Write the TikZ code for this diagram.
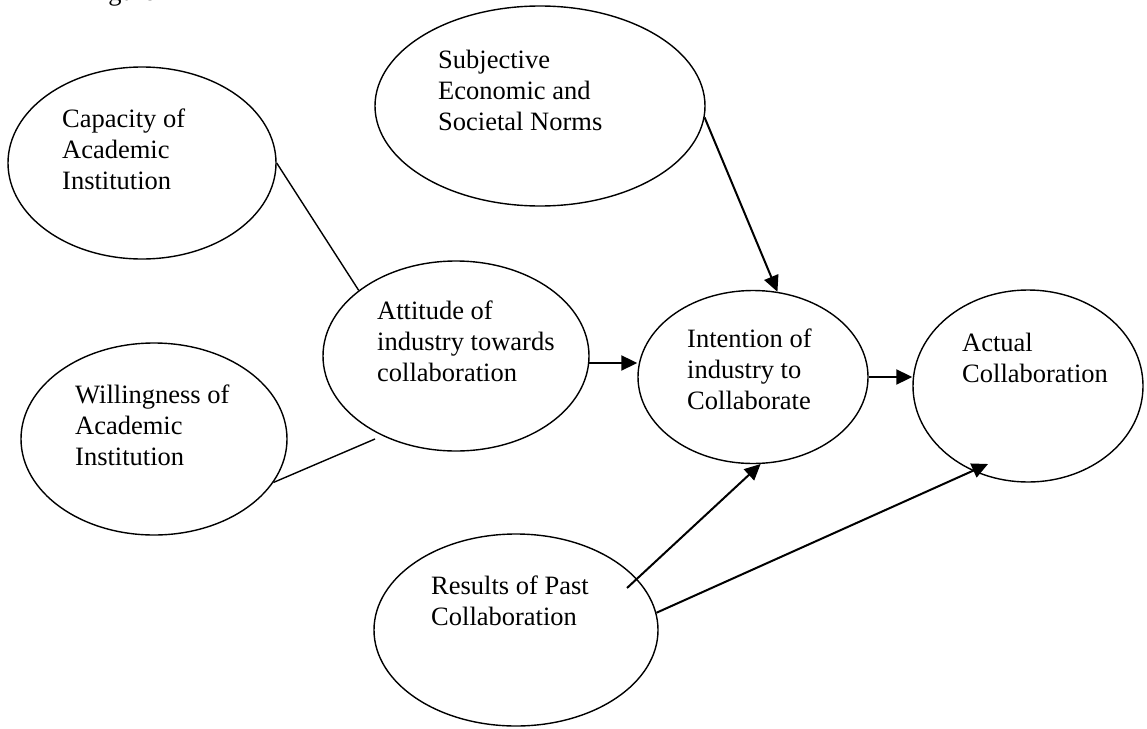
\documentclass[tikz,border=0pt]{standalone}
\usepackage{fontspec}
\setmainfont{Liberation Serif}
\usetikzlibrary{shapes.geometric,arrows.meta}

\tikzset{
  construct/.style={draw, ellipse, line width=1.4pt, inner sep=0pt},
  caption/.style={anchor=base west, inner sep=0pt,
    font=\fontsize{26.5}{31}\selectfont},
  link/.style={line width=1.4pt},
  effect/.style={line width=2pt, -{Triangle[length=16pt,width=15pt]}},
}
\newcommand{\lines}[1]{\begin{tabular}[t]{@{}l@{}}#1\end{tabular}}

\begin{document}
\begin{tikzpicture}[x=1pt, y=-1pt]
  \useasboundingbox (0,0) rectangle (1147,728);

  % heading line running off the top edge
  \begin{scope}
    \clip (0,0) rectangle (1147,728);
    \node[caption] (fig) at (86,0) {Figure};
  \end{scope}

  % constructs
  \node[construct, minimum width=268pt, minimum height=192pt] (cap)  at (142,163) {};
  \node[construct, minimum width=330pt, minimum height=200pt] (sub)  at (540,106) {};
  \node[construct, minimum width=266pt, minimum height=192pt] (will) at (154,439) {};
  \node[construct, minimum width=266pt, minimum height=190pt] (att)  at (456,356) {};
  \node[construct, minimum width=230pt, minimum height=173pt] (int)  at (753,377) {};
  \node[construct, minimum width=230pt, minimum height=192pt] (act)  at (1028,386) {};
  \node[construct, minimum width=284pt, minimum height=192pt] (res)  at (516,630) {};

  % labels
  \node[caption] (capT)  at (62,127)  {\lines{Capacity of\\Academic\\Institution}};
  \node[caption] (subT)  at (438,68)  {\lines{Subjective\\Economic and\\Societal Norms}};
  \node[caption] (attT)  at (377,319) {\lines{Attitude of\\industry towards\\collaboration}};
  \node[caption] (willT) at (75,403)  {\lines{Willingness of\\Academic\\Institution}};
  \node[caption] (intT)  at (687,347) {\lines{Intention of\\industry to\\Collaborate}};
  \node[caption] (actT)  at (962,351) {\lines{Actual\\Collaboration}};
  \node[caption] (resT)  at (431,594) {\lines{Results of Past\\Collaboration}};

  % loose connector ends
  \coordinate (willEnd) at (375,439);
  \coordinate (resOut)  at (627,588);
  \coordinate (actIn)   at (988,464);

  % plain links into the attitude construct
  \draw[link] (cap.east) -- (att.146);
  \draw[link] (will.-20) -- (willEnd);

  % directed effects
  \draw[effect] (att.-3) -- (int.west |- att.-3);
  \draw[effect] (sub.-4) -- (int.74);
  \draw[effect] (int.east) -- (act.west |- int.east);
  \draw[effect] (resOut) -- (int.-85);
  \draw[effect] (res.7) -- (actIn);
\end{tikzpicture}
\end{document}
